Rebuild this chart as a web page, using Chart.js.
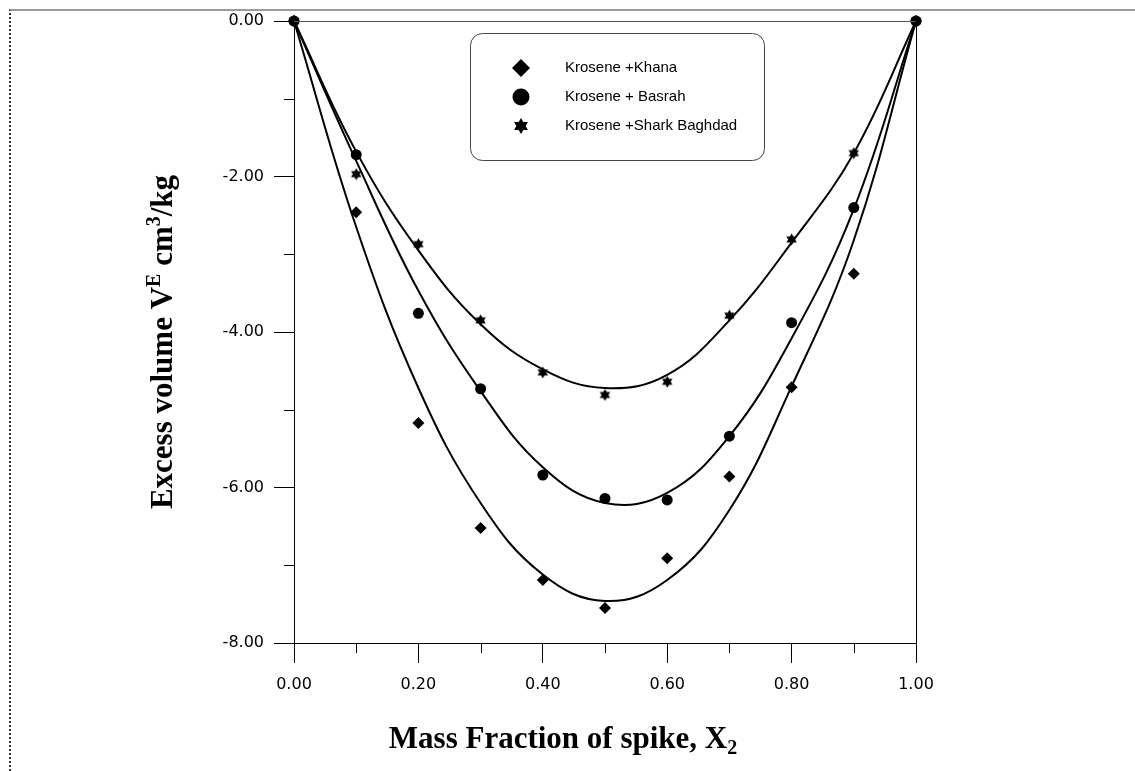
<!DOCTYPE html>
<html>
<head>
<meta charset="utf-8">
<script src="https://cdn.jsdelivr.net/npm/chart.js@4.4.1/dist/chart.umd.min.js"></script>
<style>
  body { margin: 0; background: #fff; }
  #wrap { position: relative; width: 1135px; height: 771px; }
  #frame { position: absolute; left: 9px; top: 9px; right: 0; bottom: 0;
           border-top: 2px solid #9a9a9a; border-left: 2px dotted #333; }
  #chart { position: absolute; left: 0; top: 0; }
</style>
</head>
<body>
<div id="wrap">
  <div id="frame"></div>
  <canvas id="chart" width="1135" height="771"></canvas>
</div>
<script>
// mass fraction of spike
const xValues = [0, 0.1, 0.2, 0.3, 0.4, 0.5, 0.6, 0.7, 0.8, 0.9, 1.0];

// measured excess volume (points)
const khanaPoints  = [0, -2.46, -5.17, -6.52, -7.19, -7.55, -6.91, -5.86, -4.71, -3.25, 0];
const basrahPoints = [0, -1.72, -3.76, -4.73, -5.84, -6.14, -6.16, -5.34, -3.88, -2.40, 0];
const sharkPoints  = [0, -1.97, -2.87, -3.85, -4.52, -4.81, -4.64, -3.79, -2.81, -1.70, 0];

// fitted curves
const khanaFit  = [0, -2.65, -4.72, -6.20, -7.12, -7.46, -7.19, -6.29, -4.70, -2.82, 0];
const basrahFit = [0, -1.80, -3.47, -4.76, -5.74, -6.20, -6.07, -5.34, -4.08, -2.42, 0];
const sharkFit  = [0, -1.68, -2.95, -3.90, -4.48, -4.72, -4.55, -3.85, -2.85, -1.70, 0];

const legendLabels = ['Krosene +Khana', 'Krosene + Basrah', 'Krosene +Shark Baghdad'];
const xTicks = [0, 0.2, 0.4, 0.6, 0.8, 1.0];
const yTicks = [0, -2, -4, -6, -8];

const toXY = arr => arr.map((v, i) => ({ x: xValues[i], y: v }));

function drawHexagram(ctx, cx, cy, r) {
    ctx.beginPath();
    for (let k = 0; k < 2; k++) {
        for (let i = 0; i < 3; i++) {
            const a = -Math.PI / 2 + k * Math.PI / 3 + i * 2 * Math.PI / 3;
            const px = cx + r * Math.cos(a), py = cy + r * Math.sin(a);
            if (i === 0) ctx.moveTo(px, py); else ctx.lineTo(px, py);
        }
        ctx.closePath();
    }
    ctx.fill('nonzero');
}

// star marker as a small canvas
const starImg = document.createElement('canvas');
starImg.width = 13; starImg.height = 13;
(function () {
    const c = starImg.getContext('2d');
    c.fillStyle = '#000';
    drawHexagram(c, 6.5, 6.5, 6);
})();

const curveStyle = {
    showLine: true, pointRadius: 0, borderColor: '#000', borderWidth: 2,
    tension: 0.4, clip: false, order: 5
};

const data = {
    datasets: [
        { ...curveStyle, label: 'fit1', data: toXY(khanaFit) },
        { ...curveStyle, label: 'fit2', data: toXY(basrahFit) },
        { ...curveStyle, label: 'fit3', data: toXY(sharkFit) },
        { label: legendLabels[0], data: toXY(khanaPoints), pointStyle: 'rectRot', pointRadius: 6,
          backgroundColor: '#000', borderColor: '#000', borderWidth: 0, clip: false, order: 2 },
        { label: legendLabels[1], data: toXY(basrahPoints), pointStyle: 'circle', pointRadius: 5.5,
          backgroundColor: '#000', borderColor: '#000', borderWidth: 0, clip: false, order: 0 },
        { label: legendLabels[2], data: toXY(sharkPoints), pointStyle: starImg,
          backgroundColor: '#000', borderColor: '#000', clip: false, order: 1 }
    ]
};

const decorPlugin = {
    id: 'decor',
    afterDraw(chart) {
        const ctx = chart.ctx;
        const a = chart.chartArea;
        const xs = chart.scales.x, ys = chart.scales.y;
        ctx.save();
        // frame top + right
        ctx.strokeStyle = '#555';
        ctx.lineWidth = 1;
        ctx.beginPath();
        ctx.moveTo(a.left, a.top + 0.5); ctx.lineTo(a.right, a.top + 0.5);
        ctx.stroke();
        ctx.strokeStyle = '#000';
        ctx.beginPath();
        ctx.moveTo(a.right + 0.5, a.top); ctx.lineTo(a.right + 0.5, a.bottom + 20);
        ctx.stroke();
        // minor ticks
        ctx.beginPath();
        [0.1, 0.3, 0.5, 0.7, 0.9].forEach(v => {
            const px = Math.round(xs.getPixelForValue(v)) + 0.5;
            ctx.moveTo(px, a.bottom); ctx.lineTo(px, a.bottom + 10);
        });
        [-1, -3, -5, -7].forEach(v => {
            const py = Math.round(ys.getPixelForValue(v)) + 0.5;
            ctx.moveTo(a.left - 10, py); ctx.lineTo(a.left, py);
        });
        ctx.stroke();

        // legend box
        ctx.strokeStyle = '#444';
        ctx.beginPath();
        ctx.roundRect(470.5, 33.5, 294, 127, 12);
        ctx.stroke();
        ctx.fillStyle = '#000';
        const rows = [68, 97, 126];
        ctx.beginPath();
        ctx.moveTo(521, rows[0] - 9); ctx.lineTo(530, rows[0]);
        ctx.lineTo(521, rows[0] + 9); ctx.lineTo(512, rows[0]); ctx.closePath();
        ctx.fill();
        ctx.beginPath();
        ctx.arc(521, rows[1], 8.5, 0, Math.PI * 2);
        ctx.fill();
        drawHexagram(ctx, 521, rows[2], 8);
        ctx.font = '15px "Liberation Sans", Arial, sans-serif';
        ctx.textBaseline = 'middle';
        ctx.textAlign = 'left';
        legendLabels.forEach((t, i) => ctx.fillText(t, 565, rows[i]));

        // axis titles
        const big = 'bold 31px "Liberation Serif", "Times New Roman", serif';
        const small = 'bold 20px "Liberation Serif", "Times New Roman", serif';
        ctx.textBaseline = 'alphabetic';
        ctx.font = big;
        const xt = 'Mass Fraction of spike, X';
        const w1 = ctx.measureText(xt).width;
        ctx.font = small;
        const w2 = ctx.measureText('2').width;
        let sx = 563 - (w1 + w2) / 2;
        ctx.font = big;
        ctx.fillText(xt, sx, 748);
        ctx.font = small;
        ctx.fillText('2', sx + w1, 754);

        const parts = [['Excess volume V', big, 0], ['E', small, -12], [' cm', big, 0],
                       ['3', small, -12], ['/kg', big, 0]];
        let total = 0;
        parts.forEach(p => { ctx.font = p[1]; p.push(ctx.measureText(p[0]).width); total += p[3]; });
        ctx.translate(172, 342);
        ctx.rotate(-Math.PI / 2);
        let cx = -total / 2;
        parts.forEach(p => {
            ctx.font = p[1];
            ctx.fillText(p[0], cx, p[2]);
            cx += p[3];
        });
        ctx.restore();
    }
};

const tickFont = { family: '"DejaVu Sans", Arial, sans-serif', size: 16 };

const config = {
    type: 'scatter',
    data: data,
    options: {
        responsive: false,
        animation: false,
        devicePixelRatio: 1,
        layout: { padding: { top: 21, right: 219, left: 0, bottom: 0 } },
        plugins: {
            legend: { display: false },
            tooltip: { enabled: false }
        },
        scales: {
            x: {
                type: 'linear', min: 0, max: 1,
                afterBuildTicks: s => { s.ticks = xTicks.map(v => ({ value: v })); },
                afterFit: s => { s.height = 128; },
                ticks: { callback: v => Number(v).toFixed(2), color: '#000', font: tickFont,
                         padding: 12, maxRotation: 0, autoSkip: false },
                grid: { drawOnChartArea: false, tickLength: 20, tickColor: '#000', lineWidth: 1 },
                border: { color: '#000', width: 1 }
            },
            y: {
                type: 'linear', min: -8, max: 0,
                afterBuildTicks: s => { s.ticks = yTicks.map(v => ({ value: v })); },
                afterFit: s => { s.width = 294; },
                ticks: { callback: v => Number(v).toFixed(2), color: '#000', font: tickFont,
                         padding: 10, autoSkip: false },
                grid: { drawOnChartArea: false, tickLength: 20, tickColor: '#000', lineWidth: 1 },
                border: { color: '#000', width: 1 }
            }
        }
    },
    plugins: [decorPlugin]
};

const chart = new Chart(document.getElementById('chart'), config);
</script>
</body>
</html>
